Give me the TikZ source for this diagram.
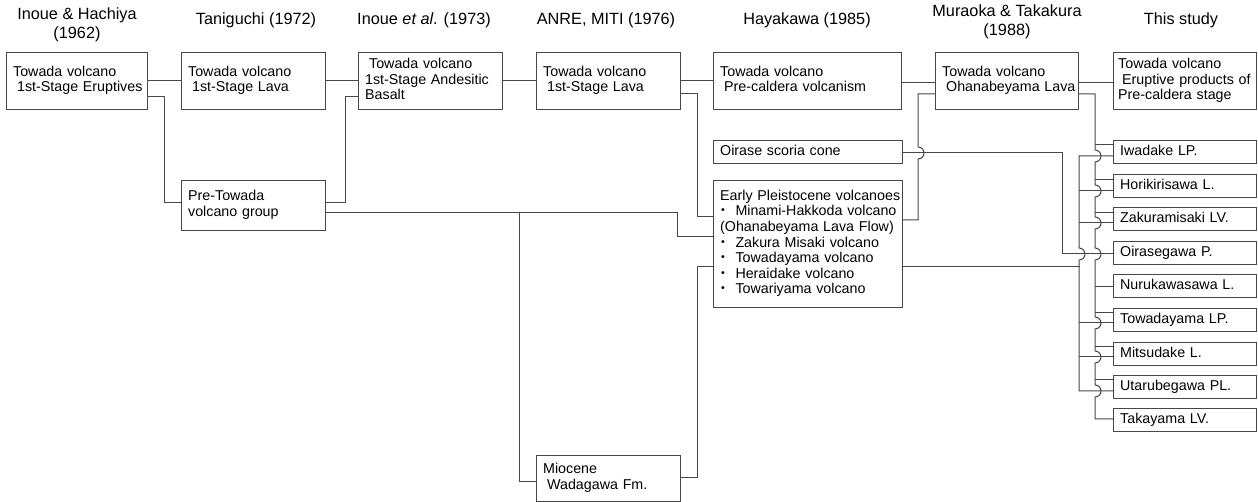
\documentclass[tikz,border=0pt]{standalone}
\usepackage{fontspec}
\setmainfont{Liberation Sans}
\newfontfamily\cjkfont{Noto Sans CJK JP}
\colorlet{LineGrey}{black!72}
\newcommand{\jumpv}[2]{-- (#1,#2-6) arc[start angle=90,end angle=-90,radius=4.5pt]}
\newcommand{\indsp}{\hspace*{3pt}}
\newcommand{\dotitem}{\makebox[11.5pt][l]{\hspace{-3.2pt}{\cjkfont ・}}}
\newcommand{\lns}[1]{\begin{tabular}{@{}l@{}}#1\end{tabular}}
\tikzset{
  hdr/.style={align=center,inner sep=0pt,font=\fontsize{12.2}{14}\selectfont},
  box/.style={draw=LineGrey,line width=.75pt,anchor=north west,align=left,
    inner xsep=5pt,inner ysep=0pt,font=\fontsize{10.7}{11.7}\selectfont,
    text width=98pt,minimum height=42.75pt},
  widebox/.style={box,text width=131.75pt},
  rbox/.style={box,text width=97.25pt,minimum height=17.6pt},
  conn/.style={draw=LineGrey,line width=.75pt},
}
\begin{document}
\begin{tikzpicture}[x=.75pt,y=-.75pt]
\useasboundingbox (0,0) rectangle (1258,502);
% headings
\node[hdr] (h1) at (77,25) {Inoue \& Hachiya\\(1962)};
\node[hdr] (h2) at (256,20) {Taniguchi (1972)};
\node[hdr] (h3) at (424,20) {Inoue \textit{et al}. (1973)};
\node[hdr] (h4) at (606,20) {ANRE, MITI (1976)};
\node[hdr] (h5) at (807,20) {Hayakawa (1985)};
\node[hdr] (h6) at (1007,22) {Muraoka \& Takakura\\(1988)};
\node[hdr] (h7) at (1181,20) {This study};
% top row
\node[box,text width=95.75pt] (b1) at (6,52) {\lns{Towada volcano\\\indsp 1st-Stage Eruptives}};
\node[box] (b2) at (181,52) {\lns{Towada volcano\\\indsp 1st-Stage Lava}};
\node[box] (b3) at (358,52) {\lns{\indsp Towada volcano\\1st-Stage Andesitic\\Basalt}};
\node[box] (b4) at (536,52) {\lns{Towada volcano\\\indsp 1st-Stage Lava}};
\node[widebox,text width=131pt] (b5) at (713,52) {\lns{Towada volcano\\\indsp Pre-caldera volcanism}};
\node[box,text width=97.25pt] (b6) at (935,52) {\lns{Towada volcano\\\indsp Ohanabeyama Lava}};
\node[box,text width=97.25pt,inner xsep=3.5pt,text width=100.25pt] (b7) at (1113,52) {\lns{Towada volcano\\\indsp Eruptive products of\\Pre-caldera stage}};
% older units
\node[box,minimum height=37.5pt] (pt) at (181,180) {\lns{Pre-Towada\\volcano group}};
\node[widebox,minimum height=17.25pt] (oir) at (713,140) {\lns{Oirase scoria cone}};
\node[widebox,minimum height=95.25pt] (ep) at (713,180) {\lns{Early Pleistocene volcanoes\\
  \dotitem Minami-Hakkoda volcano\\
  (Ohanabeyama Lava Flow)\\
  \dotitem Zakura Misaki volcano\\
  \dotitem Towadayama volcano\\
  \dotitem Heraidake volcano\\
  \dotitem Towariyama volcano}};
\node[box,minimum height=34.5pt] (mio) at (536,455) {\lns{Miocene\\\indsp Wadagawa Fm.}};
% this study
\node[rbox] (r1) at (1113,140) {\lns{Iwadake LP.}};
\node[rbox] (r2) at (1113,174) {\lns{Horikirisawa L.}};
\node[rbox] (r3) at (1113,207) {\lns{Zakuramisaki LV.}};
\node[rbox] (r4) at (1113,241) {\lns{Oirasegawa P.}};
\node[rbox] (r5) at (1113,274) {\lns{Nurukawasawa L.}};
\node[rbox] (r6) at (1113,308) {\lns{Towadayama LP.}};
\node[rbox] (r7) at (1113,342) {\lns{Mitsudake L.}};
\node[rbox] (r8) at (1113,375) {\lns{Utarubegawa PL.}};
\node[rbox] (r9) at (1113,408) {\lns{Takayama LV.}};
\coordinate (ptfork) at (519,213);
% links, left part
\draw[conn] (b1.east) -- (b2.west);
\draw[conn] (b1.east |- 0,97) -- (164,97) -- (164,203) -- (pt.west |- 0,203);
\draw[conn] (b2.east) -- (b3.west);
\draw[conn] (pt.east |- 0,203) -- (345,203) -- (345,97) -- (b3.west |- 0,97);
\draw[conn] (b3.east) -- (b4.west);
\draw[conn] (b4.east) -- (b5.west);
\draw[conn] (b4.east |- 0,94) -- (697,94) -- (697,217) -- (ep.west |- 0,217);
\draw[conn] (pt.east |- 0,213) -- (677,213) -- (677,237) -- (ep.west |- 0,237);
\draw[conn] (ptfork) -- (ptfork |- 0,482) -- (mio.west |- 0,482);
\draw[conn] (mio.east |- 0,478) -- (697,478) -- (697,267) -- (ep.west |- 0,267);
% links, right part
\draw[conn] (b5.east |- 0,83) -- (b6.west |- 0,83);
\draw[conn] (b6.east |- 0,83) -- (b7.west |- 0,83);
\draw[conn] (b6.west |- 0,94) -- (918,94) \jumpv{918}{153} -- (918,220) -- (ep.east |- 0,220);
\draw[conn] (oir.east |- 0,153) -- (1062,153) -- (1062,254) -- (r4.west |- 0,254);
% Muraoka & Takakura trunk
\draw[conn] (b6.east |- 0,94) -- (1095,94) \jumpv{1095}{156} \jumpv{1095}{191}
  \jumpv{1095}{223} \jumpv{1095}{254} \jumpv{1095}{323} \jumpv{1095}{357}
  \jumpv{1095}{391} -- (1095,419) -- (r9.west |- 0,419);
\draw[conn] (r1.west |- 0,145) -- ++(-18,0);
\draw[conn] (r2.west |- 0,180) -- ++(-18,0);
\draw[conn] (r3.west |- 0,213) -- ++(-18,0);
\draw[conn] (r5.west) -- ++(-18,0);
\draw[conn] (r6.west |- 0,313) -- ++(-18,0);
\draw[conn] (r7.west |- 0,347) -- ++(-18,0);
\draw[conn] (r8.west |- 0,380) -- ++(-18,0);
% Early Pleistocene trunk
\draw[conn] (r1.west |- 0,156) -- (1079,156) \jumpv{1079}{254} -- (1079,391) -- (r8.west |- 0,391);
\draw[conn] (ep.east |- 0,267) -- ++(177,0);
\draw[conn] (r2.west |- 0,191) -- ++(-34,0);
\draw[conn] (r3.west |- 0,223) -- ++(-34,0);
\draw[conn] (r6.west |- 0,323) -- ++(-34,0);
\draw[conn] (r7.west |- 0,357) -- ++(-34,0);
\end{tikzpicture}
\end{document}
